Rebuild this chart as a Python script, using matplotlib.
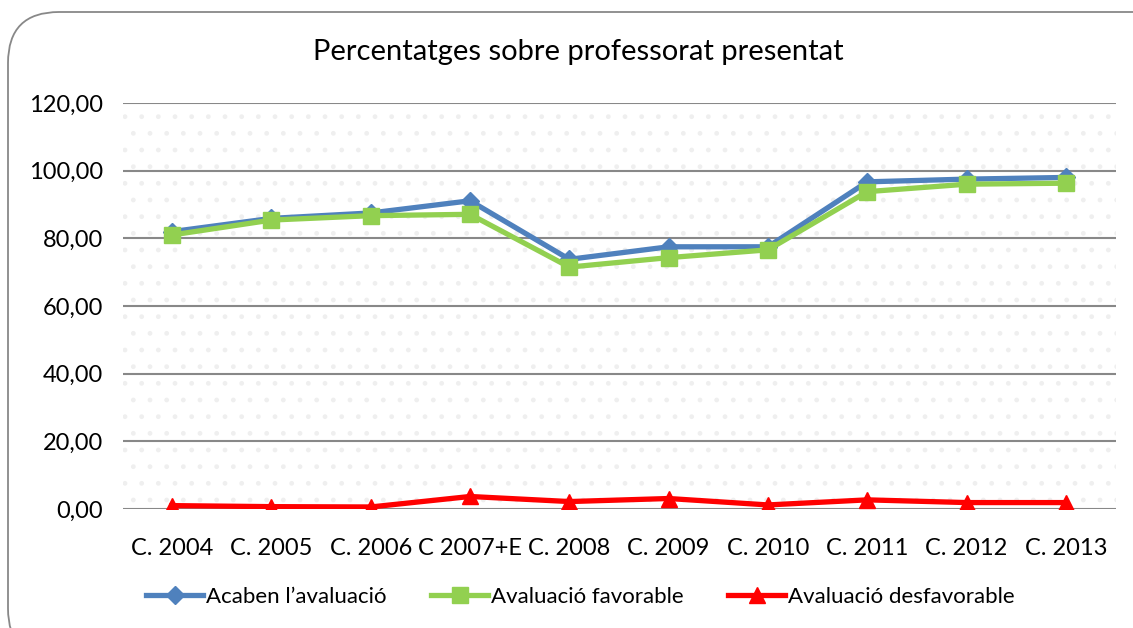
import numpy as np
import matplotlib.pyplot as plt
from matplotlib.patches import FancyBboxPatch
from matplotlib.ticker import FuncFormatter

#------------------------------------------------------------------
FONT = "Lato"
FONTSIZE = 17
categories = ["C. 2004", "C. 2005", "C. 2006", "C 2007+E", "C. 2008",
              "C. 2009", "C. 2010", "C. 2011", "C. 2012", "C. 2013"]
acaben = [82.0, 85.9, 87.5, 91.1, 73.8, 77.5, 77.5, 96.7, 97.5, 98.0]
favorable = [81.0, 85.4, 86.7, 87.1, 71.5, 74.3, 76.6, 93.8, 96.0, 96.3]
desfavorable = [1.0, 0.7, 0.6, 3.7, 2.2, 3.1, 1.2, 2.7, 1.9, 1.9]
#------------------------------------------------------------------
plt.rcParams['font.family'] = [FONT, 'DejaVu Sans']

fig = plt.figure(figsize=(11.33, 6.28), dpi=100)
fig.patch.set_facecolor("white")

# rounded chart frame
frame = FancyBboxPatch((8/1133, -0.05), 1.05, 1.0 - 12/628 + 0.05,
                       boxstyle="round,pad=0,rounding_size=0.045",
                       transform=fig.transFigure, facecolor="none",
                       edgecolor="#888888", linewidth=1.3,
                       mutation_aspect=1133/628)
fig.patches.append(frame)

ax = fig.add_axes([122.5/1133, (628-509)/628, 993/1133, 406/628])
ax.patch.set_facecolor("white")
ax.patch.set_hatch(".")
ax.patch.set_edgecolor("#efefef")
ax.patch.set_linewidth(0)

x = np.arange(len(categories))
ax.plot(x, acaben, color="#4F81BD", lw=3.8, marker="D", ms=9, label="Acaben l\u2019avaluació", zorder=3)
ax.plot(x, favorable, color="#92D050", lw=3.8, marker="s", ms=12, label="Avaluació favorable", zorder=4)
ax.plot(x, desfavorable, color="#FF0000", lw=3.8, marker="^", ms=12, label="Avaluació desfavorable", zorder=5)

ax.set_xlim(-0.5, len(categories) - 0.5)
ax.set_ylim(0, 120)
ax.set_yticks(np.arange(0, 121, 20))
ax.yaxis.set_major_formatter(FuncFormatter(lambda v, p: ("%.2f" % v).replace(".", ",")))
ax.set_xticks(x)
ax.set_xticklabels(categories)
ax.grid(axis="y", color="#888888", lw=1.5, zorder=1)
ax.set_axisbelow(True)
for s in ax.spines.values():
    s.set_visible(False)
ax.tick_params(length=0, labelsize=FONTSIZE, colors="black")
ax.tick_params(axis="y", pad=14)
ax.tick_params(axis="x", pad=21)

fig.text(578/1133, 1 - 52/628, "Percentatges sobre professorat presentat",
         ha="center", va="center", fontsize=21)

fig.legend(loc="center", bbox_to_anchor=(580/1133, 1 - 597/628), ncol=3,
           frameon=False, fontsize=FONTSIZE - 1, handlelength=2.6,
           handletextpad=0.1, columnspacing=2.0, markerscale=1.0)

plt.savefig("out.png", dpi=100)
